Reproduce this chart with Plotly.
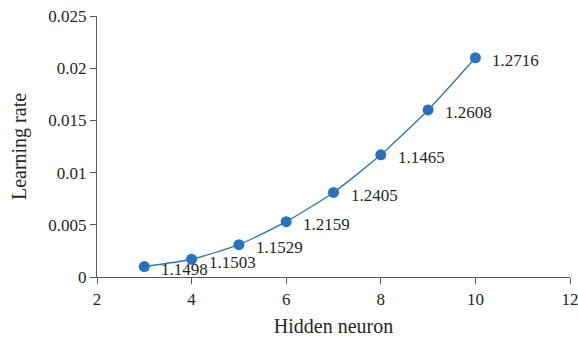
import plotly.graph_objects as go

# Hidden neuron count vs learning rate, with the value label for each point
hidden_neurons = [3, 4, 5, 6, 7, 8, 9, 10]
learning_rate = [0.001, 0.0017, 0.0031, 0.0053, 0.0081, 0.0117, 0.016, 0.021]
point_labels = ["1.1498", "1.1503", "1.1529", "1.2159", "1.2405", "1.1465", "1.2608", "1.2716"]

x_ticks = [2, 4, 6, 8, 10, 12]
y_ticks = [0, 0.005, 0.01, 0.015, 0.02, 0.025]
y_tick_text = ["0", "0.005", "0.01", "0.015", "0.02", "0.025"]

blue = "#2a72bd"
axis_color = "#595959"
font_family = "Liberation Serif, Times New Roman, serif"

fig = go.Figure()
fig.add_trace(go.Scatter(
    x=hidden_neurons,
    y=learning_rate,
    mode="lines+markers",
    line=dict(color=blue, width=1.3, shape="spline", smoothing=0.6),
    marker=dict(color=blue, size=11),
    hoverinfo="skip",
))

for xv, yv, lbl in zip(hidden_neurons, learning_rate, point_labels):
    fig.add_annotation(
        x=xv, y=yv, text=lbl, showarrow=False,
        xanchor="left", yanchor="middle",
        xshift=15, yshift=-3,
        font=dict(family=font_family, size=17, color="#262626"),
    )

fig.update_layout(
    width=578, height=338,
    margin=dict(l=97, r=8, t=16, b=61),
    paper_bgcolor="white", plot_bgcolor="white",
    showlegend=False,
    font=dict(family=font_family, size=17, color="#262626"),
)
fig.update_xaxes(
    range=[2, 12], tickvals=x_ticks, automargin=False,
    ticklabeloverflow="allow",
    showline=True, linecolor=axis_color, linewidth=1.3,
    ticks="outside", ticklen=6, tickcolor=axis_color,
    showgrid=False, zeroline=False,
    title=dict(text="Hidden neuron", standoff=11),
)
fig.update_yaxes(
    range=[0, 0.025], tickvals=y_ticks, ticktext=y_tick_text, automargin=False,
    ticklabeloverflow="allow", ticklabelstandoff=0,
    showline=True, linecolor=axis_color, linewidth=1.3,
    ticks="outside", ticklen=6, tickcolor=axis_color,
    showgrid=False, zeroline=False,
    title=dict(text="Learning rate", standoff=16),
)

fig.write_html("out.html")
